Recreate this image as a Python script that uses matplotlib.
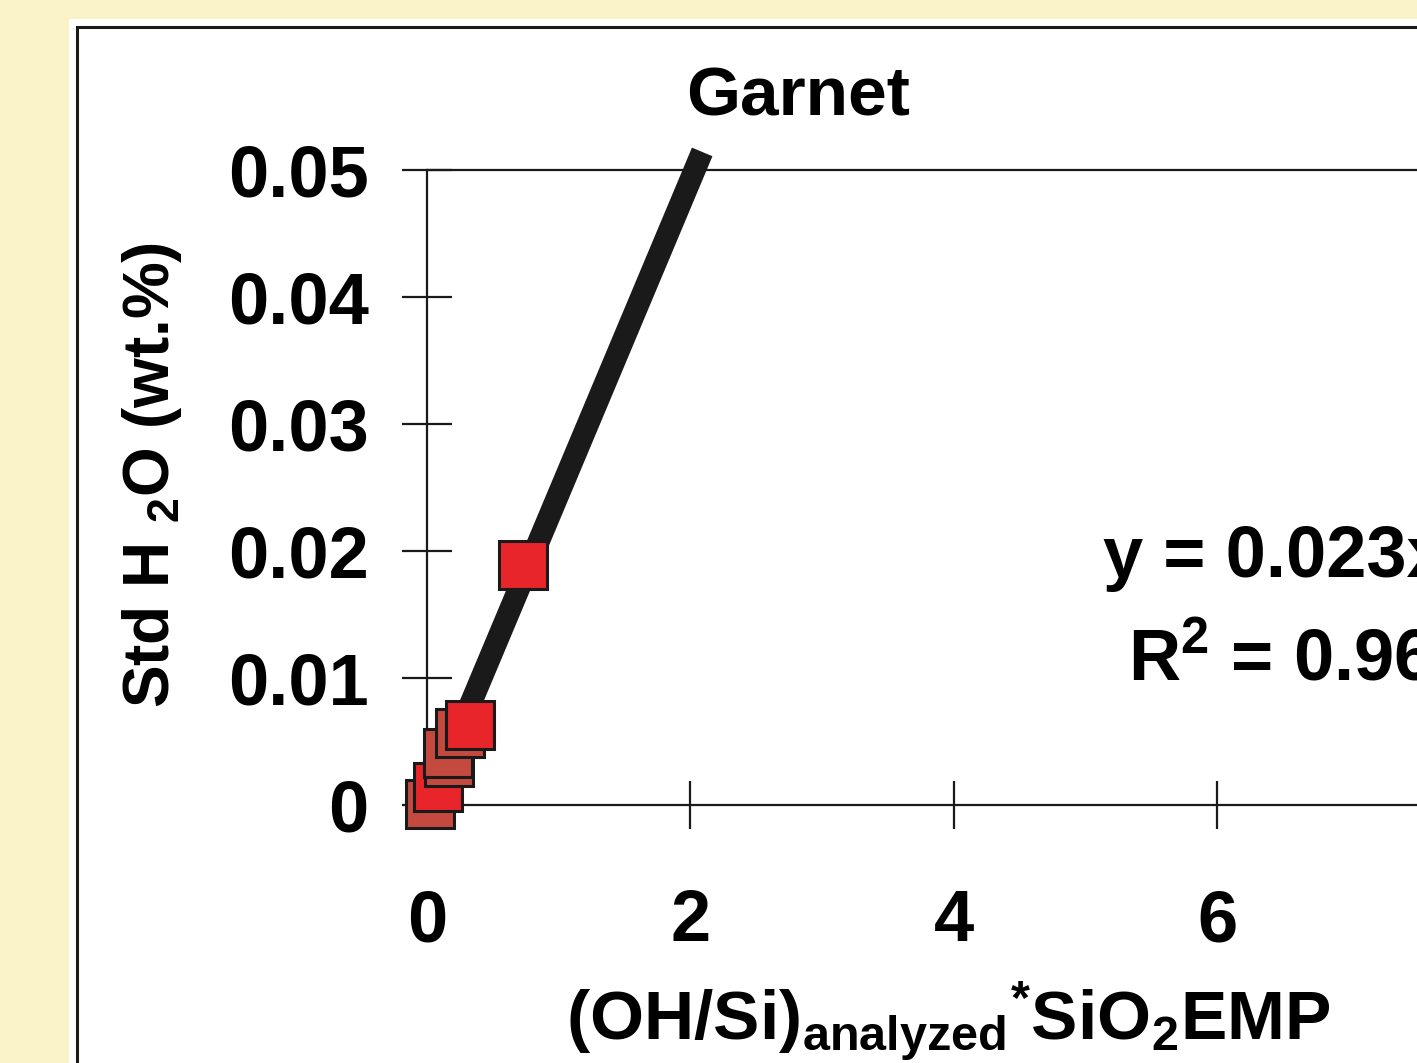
import matplotlib

matplotlib.use("Agg")
import matplotlib.pyplot as plt
from matplotlib.patches import Rectangle

# data
ratio_x = [0.02, 0.08, 0.17, 0.16, 0.25, 0.33, 0.73]
std_h2o = [0.0001, 0.0014, 0.0034, 0.0041, 0.0057, 0.0063, 0.0189]
face_colors = ["#C4493E", "#E8252B", "#C4493E", "#C4493E", "#C4493E", "#E8252B", "#E8252B"]
trend_slope = 0.0247
trend_intercept = -0.0002
trend_x = [0.1, 2.09]
x_ticks = [0, 2, 4, 6]
y_ticks = [0, 0.01, 0.02, 0.03, 0.04, 0.05]
y_tick_labels = ["0", "0.01", "0.02", "0.03", "0.04", "0.05"]

plt.rcParams["font.family"] = ["Liberation Sans", "DejaVu Sans"]
plt.rcParams["font.weight"] = "bold"
plt.rcParams["mathtext.fontset"] = "custom"
plt.rcParams["mathtext.rm"] = "Liberation Sans:bold"
plt.rcParams["mathtext.it"] = "Liberation Sans:bold"
plt.rcParams["mathtext.bf"] = "Liberation Sans:bold"

fig = plt.figure(figsize=(14.17, 10.63), dpi=100)
fig.patch.set_facecolor("#FAF3C8")

W, H = 1417, 1063
# white panel with a black frame, running off the right and bottom edges
fig.patches.append(Rectangle((69 / W, -0.1), 1.2, 1 - 19 / H + 0.1, transform=fig.transFigure,
                             facecolor="white", edgecolor="none", zorder=-3))
fig.patches.append(Rectangle((77 / W, -0.1), 1.2, 1 - 27 / H + 0.1, transform=fig.transFigure,
                             facecolor="none", edgecolor="#1a1a1a", linewidth=2.2, zorder=-2))

ax = fig.add_axes([427 / W, 1 - 805 / H, 1316.7 / W, 635 / H])
ax.set_facecolor("white")
ax.set_xlim(0, 10)
ax.set_ylim(0, 0.05)

trend_y = [trend_slope * x + trend_intercept for x in trend_x]
ax.plot(trend_x, trend_y, color="#1a1a1a", linewidth=16, solid_capstyle="butt", zorder=3,
        clip_on=False)

for x, y, c in zip(ratio_x, std_h2o, face_colors):
    ax.plot(x, y, marker="s", markersize=34.5, markerfacecolor=c, markeredgecolor="#1a1a1a",
            markeredgewidth=2.2, linestyle="none", zorder=4, clip_on=False)

for side in ("left", "bottom", "top", "right"):
    ax.spines[side].set_linewidth(1.6)
    ax.spines[side].set_color("#1a1a1a")

ax.set_xticks(x_ticks)
ax.set_xticklabels([str(t) for t in x_ticks])
ax.set_yticks(y_ticks)
ax.set_yticklabels(y_tick_labels)
ax.tick_params(axis="y", direction="inout", length=36, width=1.6, color="#1a1a1a",
               labelsize=52, pad=24)
ax.tick_params(axis="x", direction="inout", length=34, width=1.6, color="#1a1a1a",
               labelsize=52, pad=43)

fig.text(798 / W, 1 - 115 / H, "Garnet", fontsize=50, fontweight="bold", ha="center",
         va="baseline")
fig.text(152 / W, 1 - 475 / H, r"Std H $_{2}$O (wt.%)", fontsize=46, fontweight="bold",
         rotation=90, ha="center", va="center")
fig.text(948 / W, 1 - 1040 / H, r"(OH/Si)$_{\mathrm{analyzed}}$$^{*}$SiO$_{2}$EMP",
         fontsize=50, fontweight="bold", ha="center", va="baseline")

fig.text(1103 / W, 1 - 577 / H, "y = 0.023x + 0.0002", fontsize=52, fontweight="bold",
         ha="left", va="baseline")
fig.text(1128 / W, 1 - 680 / H, r"R$^{2}$ = 0.9612", fontsize=52, fontweight="bold",
         ha="left", va="baseline")

fig.savefig("out.png", dpi=100, facecolor=fig.get_facecolor())
